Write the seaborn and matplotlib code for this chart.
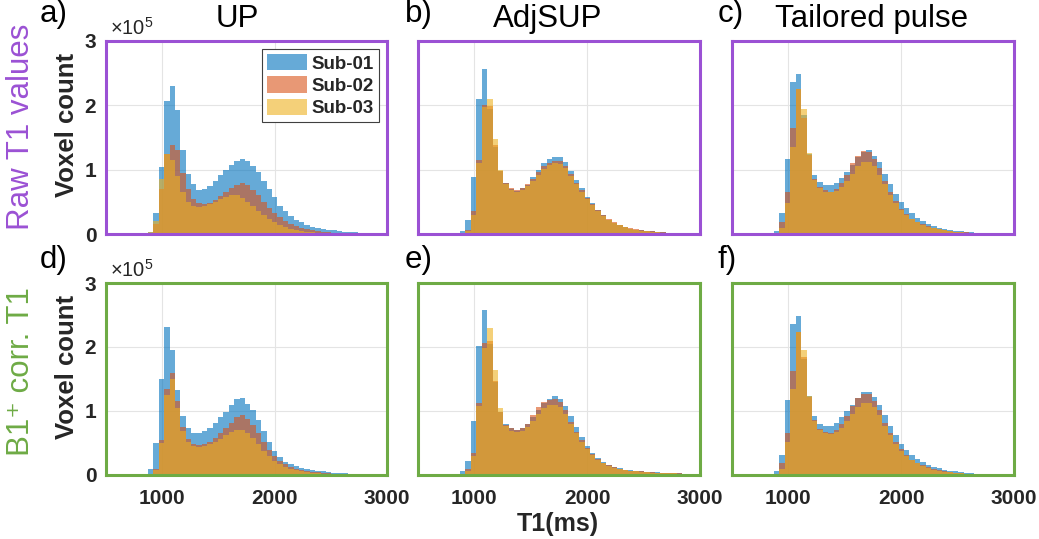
import numpy as np
import pandas as pd
import matplotlib
matplotlib.use("Agg")
import matplotlib.pyplot as plt
from matplotlib.patches import Patch
import seaborn as sns

sns.set_theme(style="white")
plt.rcParams['font.family'] = ['Liberation Sans', 'DejaVu Sans']
plt.rcParams['mathtext.fontset'] = 'custom'
plt.rcParams['mathtext.rm'] = 'Liberation Sans'
plt.rcParams['mathtext.it'] = 'Liberation Sans:italic'
plt.rcParams['mathtext.bf'] = 'Liberation Sans:bold'

# ---------------- data ----------------
SUBJECTS = ["Sub-01", "Sub-02", "Sub-03"]
METHODS = ["UP", "AdjSUP", "Tailored pulse"]
ROW_LABELS = ["Raw T1 values", "B1\u207a corr. T1"]
PANEL_LETTERS = ["a)", "b)", "c)", "d)", "e)", "f)"]
X_TICKS = [1000, 2000, 3000]
Y_TICKS = [0, 100000, 200000, 300000]
Y_TICK_LABELS = ["0", "1", "2", "3"]
X_LABEL = "T1(ms)"
Y_LABEL = "Voxel count"
Y_EXPONENT = r"$\mathregular{\times10^{5}}$"

# histogram bins (ms)
BIN_START = 825
BIN_WIDTH = 48
N_BINS = 46
COUNT_UNIT = 1e4  # values below are voxel counts in units of 10^4

# Row 1: raw T1 values
raw_up_sub01 = [0.0, 0.3, 3.2, 10.4, 20.6, 23.0, 19.2, 13.0, 9.4, 7.8,
                6.8, 7.0, 7.5, 8.3, 9.1, 9.9, 10.8, 11.4, 11.7, 11.4,
                10.5, 9.6, 8.3, 7.0, 5.7, 4.4, 3.5, 2.75, 2.2, 1.8,
                1.45, 1.15, 0.95, 0.8, 0.65, 0.55, 0.45, 0.38, 0.3, 0.25,
                0.2, 0.15, 0.12, 0.08, 0.05, 0.03]
raw_up_sub02 = [0.0, 0.2, 1.5, 7.0, 12.5, 13.8, 13.0, 9.5, 7.0, 5.5,
                4.8, 4.6, 4.8, 5.3, 5.9, 6.5, 7.1, 7.6, 7.9, 7.6,
                6.9, 6.0, 5.0, 4.1, 3.3, 2.6, 2.0, 1.55, 1.2, 0.9,
                0.7, 0.55, 0.42, 0.32, 0.25, 0.2, 0.15, 0.1, 0.08, 0.05,
                0.03, 0.02, 0.01, 0.0, 0.0, 0.0]
raw_up_sub03 = [0.0, 0.3, 2.0, 8.5, 12.4, 11.5, 9.0, 6.5, 5.0, 4.4,
                4.2, 4.3, 4.6, 5.0, 5.4, 5.8, 6.0, 6.0, 5.6, 5.0,
                4.3, 3.6, 2.9, 2.3, 1.8, 1.4, 1.05, 0.8, 0.6, 0.45,
                0.35, 0.27, 0.2, 0.15, 0.1, 0.08, 0.05, 0.03, 0.02, 0.01,
                0.0, 0.0, 0.0, 0.0, 0.0, 0.0]

raw_adjsup_sub01 = [0.0, 0.4, 2.1, 8.8, 21.0, 25.6, 19.5, 13.5, 9.8, 7.9,
                    7.0, 6.75, 7.1, 7.6, 8.8, 10.0, 11.0, 11.7, 12.0, 11.9,
                    11.2, 9.8, 8.4, 7.1, 5.8, 4.8, 3.8, 2.9, 2.2, 1.7,
                    1.34, 1.03, 0.82, 0.67, 0.57, 0.48, 0.4, 0.33, 0.27, 0.22,
                    0.18, 0.15, 0.12, 0.1, 0.08, 0.06]
raw_adjsup_sub02 = [0.0, 0.1, 0.6, 3.5, 11.5, 20.0, 19.9, 13.8, 9.8, 7.9,
                    7.2, 6.9, 7.2, 7.7, 8.5, 9.6, 10.5, 11.1, 11.4, 11.3,
                    10.6, 9.3, 8.0, 6.8, 5.6, 4.6, 3.7, 2.9, 2.3, 1.8,
                    1.4, 1.1, 0.88, 0.7, 0.58, 0.48, 0.4, 0.33, 0.27, 0.22,
                    0.18, 0.15, 0.12, 0.1, 0.08, 0.06]
raw_adjsup_sub03 = [0.0, 0.1, 0.4, 3.0, 11.0, 19.8, 21.0, 14.8, 10.0, 7.7,
                    6.9, 6.6, 6.9, 7.4, 8.2, 9.2, 10.1, 10.7, 11.0, 10.9,
                    10.2, 9.0, 7.8, 6.6, 5.5, 4.5, 3.6, 2.8, 2.2, 1.7,
                    1.35, 1.05, 0.85, 0.66, 0.53, 0.43, 0.35, 0.28, 0.23, 0.19,
                    0.15, 0.12, 0.1, 0.08, 0.06, 0.05]

raw_tailored_sub01 = [0.0, 0.5, 3.2, 11.6, 23.6, 24.8, 18.5, 12.4, 9.2, 8.1,
                      7.6, 7.6, 7.9, 8.75, 9.6, 10.8, 12.0, 12.8, 13.0, 12.2,
                      11.2, 9.4, 7.7, 6.25, 5.0, 4.0, 3.2, 2.5, 2.0, 1.6,
                      1.25, 1.0, 0.8, 0.62, 0.5, 0.4, 0.32, 0.25, 0.2, 0.15,
                      0.12, 0.09, 0.07, 0.05, 0.03, 0.02]
raw_tailored_sub02 = [0.0, 0.2, 1.8, 6.5, 16.4, 22.5, 18.1, 12.3, 8.6, 7.3,
                      6.8, 6.5, 7.0, 7.9, 9.1, 11.0, 12.1, 12.9, 12.8, 11.7,
                      10.2, 8.3, 6.5, 5.2, 3.9, 3.1, 2.4, 1.9, 1.5, 1.2,
                      0.95, 0.75, 0.6, 0.48, 0.38, 0.3, 0.24, 0.19, 0.15, 0.12,
                      0.09, 0.07, 0.05, 0.04, 0.03, 0.02]
raw_tailored_sub03 = [0.0, 0.1, 1.0, 4.8, 13.6, 22.5, 19.4, 12.6, 8.4, 7.1,
                      6.6, 6.5, 6.7, 7.3, 8.3, 9.4, 10.5, 11.2, 11.2, 10.5,
                      9.2, 7.7, 6.1, 4.8, 3.7, 2.9, 2.3, 1.8, 1.4, 1.1,
                      0.87, 0.7, 0.55, 0.44, 0.35, 0.28, 0.22, 0.17, 0.13, 0.1,
                      0.08, 0.06, 0.04, 0.03, 0.02, 0.01]

# Row 2: B1+ corrected T1
corr_up_sub01 = [0.1, 0.9, 5.0, 15.0, 23.2, 19.5, 13.3, 9.2, 7.4, 6.6,
                 6.5, 6.8, 7.4, 8.1, 9.0, 9.9, 11.0, 11.9, 12.1, 11.1,
                 10.1, 8.6, 6.8, 5.1, 3.7, 2.8, 2.1, 1.7, 1.37, 1.15,
                 0.93, 0.78, 0.65, 0.55, 0.45, 0.37, 0.3, 0.24, 0.19, 0.15,
                 0.11, 0.08, 0.05, 0.03, 0.01, 0.0]
corr_up_sub02 = [0.0, 0.1, 1.0, 5.5, 13.5, 16.0, 11.5, 7.5, 5.6, 4.9,
                 4.7, 4.8, 5.2, 5.8, 6.5, 7.3, 8.2, 9.0, 9.3, 8.8,
                 7.8, 6.5, 5.1, 3.9, 2.9, 2.2, 1.7, 1.3, 1.0, 0.8,
                 0.62, 0.5, 0.4, 0.32, 0.25, 0.2, 0.15, 0.12, 0.09, 0.07,
                 0.05, 0.03, 0.02, 0.01, 0.0, 0.0]
corr_up_sub03 = [0.0, 0.05, 0.8, 5.0, 12.5, 15.0, 10.5, 6.8, 5.2, 4.6,
                 4.4, 4.5, 4.8, 5.2, 5.7, 6.2, 6.7, 7.0, 7.0, 6.6,
                 5.8, 4.8, 3.8, 2.9, 2.2, 1.7, 1.3, 1.0, 0.78, 0.6,
                 0.47, 0.37, 0.29, 0.22, 0.17, 0.13, 0.1, 0.07, 0.05, 0.03,
                 0.02, 0.01, 0.0, 0.0, 0.0, 0.0]

corr_adjsup_sub01 = [0.0, 0.55, 2.2, 8.4, 20.2, 25.8, 20.5, 14.5, 9.8, 7.9,
                     7.3, 7.0, 7.3, 7.9, 9.0, 10.1, 11.3, 11.9, 12.3, 11.8,
                     10.8, 9.2, 7.5, 6.0, 4.5, 3.5, 2.6, 2.0, 1.6, 1.24,
                     1.03, 0.82, 0.72, 0.62, 0.57, 0.5, 0.45, 0.4, 0.36, 0.32,
                     0.28, 0.25, 0.22, 0.2, 0.18, 0.15]
corr_adjsup_sub02 = [0.0, 0.2, 1.0, 3.5, 11.2, 20.6, 20.9, 14.7, 9.8, 7.8,
                     7.3, 7.1, 7.4, 8.0, 9.4, 10.6, 11.4, 11.7, 11.8, 11.4,
                     10.1, 8.3, 6.75, 5.4, 4.2, 3.3, 2.5, 1.95, 1.55, 1.2,
                     1.0, 0.8, 0.7, 0.6, 0.55, 0.48, 0.43, 0.38, 0.34, 0.3,
                     0.27, 0.24, 0.21, 0.19, 0.17, 0.14]
corr_adjsup_sub03 = [0.0, 0.1, 0.6, 3.0, 10.8, 19.8, 22.9, 16.4, 10.4, 7.6,
                     6.9, 6.7, 6.9, 7.5, 8.4, 9.5, 10.4, 10.9, 11.0, 10.6,
                     9.6, 8.0, 6.5, 5.2, 4.0, 3.1, 2.4, 1.85, 1.45, 1.15,
                     0.95, 0.78, 0.66, 0.57, 0.5, 0.44, 0.39, 0.35, 0.31, 0.28,
                     0.25, 0.22, 0.2, 0.18, 0.16, 0.13]

corr_tailored_sub01 = [0.0, 0.6, 3.2, 11.7, 23.6, 24.9, 18.2, 12.3, 9.2, 8.0,
                       7.6, 7.6, 8.1, 9.0, 9.95, 11.0, 12.1, 12.9, 12.9, 12.2,
                       11.0, 9.3, 7.7, 6.2, 4.9, 3.9, 3.1, 2.5, 2.0, 1.6,
                       1.3, 1.05, 0.85, 0.68, 0.55, 0.44, 0.35, 0.28, 0.22, 0.17,
                       0.13, 0.1, 0.07, 0.05, 0.03, 0.02]
corr_tailored_sub02 = [0.0, 0.2, 1.8, 6.5, 16.2, 22.4, 18.4, 12.2, 8.6, 7.2,
                       6.7, 6.6, 7.0, 7.9, 9.2, 10.8, 12.0, 12.7, 12.7, 11.6,
                       10.1, 8.2, 6.5, 5.2, 4.0, 3.1, 2.4, 1.9, 1.5, 1.2,
                       0.95, 0.75, 0.6, 0.47, 0.37, 0.29, 0.23, 0.18, 0.14, 0.11,
                       0.08, 0.06, 0.04, 0.03, 0.02, 0.01]
corr_tailored_sub03 = [0.0, 0.1, 1.0, 5.2, 13.5, 22.4, 19.6, 12.4, 8.4, 7.0,
                       6.5, 6.4, 6.7, 7.4, 8.4, 9.6, 10.7, 11.25, 11.25, 10.6,
                       9.3, 7.7, 6.2, 4.9, 3.8, 2.9, 2.3, 1.8, 1.4, 1.1,
                       0.85, 0.67, 0.53, 0.42, 0.33, 0.26, 0.2, 0.16, 0.12, 0.09,
                       0.07, 0.05, 0.03, 0.02, 0.01, 0.0]

PANELS = [
    [(raw_up_sub01, raw_up_sub02, raw_up_sub03),
     (raw_adjsup_sub01, raw_adjsup_sub02, raw_adjsup_sub03),
     (raw_tailored_sub01, raw_tailored_sub02, raw_tailored_sub03)],
    [(corr_up_sub01, corr_up_sub02, corr_up_sub03),
     (corr_adjsup_sub01, corr_adjsup_sub02, corr_adjsup_sub03),
     (corr_tailored_sub01, corr_tailored_sub02, corr_tailored_sub03)],
]

# ---------------- style ----------------
SUB_COLORS = ["#0072BD", "#D95319", "#EDB120"]
ROW_COLORS = ["#9B51D4", "#6EAB45"]
TEXT_DARK = "#262626"
FIG_W, FIG_H = 1039, 539
COL_X = [(106, 387), (418, 700), (732, 1014)]
ROW_Y = [(41, 234), (283, 475)]

edges = BIN_START + BIN_WIDTH * np.arange(N_BINS + 1)
centers = edges[:-1] + BIN_WIDTH / 2.0

fig = plt.figure(figsize=(FIG_W / 100, FIG_H / 100), dpi=100)


def fx(x):
    return x / FIG_W


def fy(y):
    return 1 - y / FIG_H


for r in range(2):
    for c in range(3):
        l, rr = COL_X[c]
        t, b = ROW_Y[r]
        ax = fig.add_axes([fx(l), fy(b), (rr - l) / FIG_W, (b - t) / FIG_H])
        ax.set_axisbelow(True)
        for k, vals in enumerate(PANELS[r][c]):
            df = pd.DataFrame({"t1": centers,
                               "count": np.asarray(vals, dtype=float) * COUNT_UNIT})
            sns.histplot(data=df, x="t1", weights="count",
                         bins=list(edges), element="step", fill=True,
                         color=SUB_COLORS[k], alpha=0.6, linewidth=0,
                         ax=ax)
        ax.set_xlim(500, 3000)
        ax.set_ylim(0, 300000)
        ax.set_xticks(X_TICKS)
        ax.set_yticks(Y_TICKS)
        ax.grid(True, color="#E4E4E4", linewidth=0.8)
        ax.set_xlabel("")
        ax.set_ylabel("")
        if c == 0:
            ax.set_yticklabels(Y_TICK_LABELS)
        else:
            ax.set_yticklabels([])
        if r == 1:
            ax.set_xticklabels([str(v) for v in X_TICKS])
        else:
            ax.set_xticklabels([])
        ax.tick_params(axis="both", direction="in", length=3, width=0.6,
                       color="#666666", labelsize=15, labelcolor=TEXT_DARK)
        ax.tick_params(axis="y", pad=7)
        ax.tick_params(axis="x", pad=10)
        for lab in ax.get_xticklabels() + ax.get_yticklabels():
            lab.set_fontweight("bold")
        for sp in ax.spines.values():
            sp.set_color(ROW_COLORS[r])
            sp.set_linewidth(2.2)
            sp.set_visible(True)

        if r == 0 and c == 0:
            handles = [Patch(facecolor=SUB_COLORS[k], alpha=0.6, edgecolor="none")
                       for k in range(3)]
            leg = ax.legend(handles, SUBJECTS, loc="upper right",
                            prop={"weight": "bold", "size": 13.5},
                            frameon=True, fancybox=False, framealpha=1,
                            edgecolor="#404040", borderaxespad=0.45,
                            handlelength=2.15, handleheight=0.95,
                            labelspacing=0.2, borderpad=0.25,
                            handletextpad=0.25)
            leg.get_frame().set_linewidth(0.8)

# titles
TITLE_X = [237, 548, 872]
for c, name in enumerate(METHODS):
    fig.text(fx(TITLE_X[c]), fy(27), name, ha="center", va="baseline",
             fontsize=22.5, color="black")

# panel letters
LETTER_X = [40, 405, 718]
LETTER_Y = [22, 268]
for i, letter in enumerate(PANEL_LETTERS):
    r, c = divmod(i, 3)
    fig.text(fx(LETTER_X[c]), fy(LETTER_Y[r]), letter, ha="left",
             va="baseline", fontsize=22.5, color="black")

# row labels
ROW_LABEL_Y = [127, 372]
VOXEL_Y = [125, 367]
for r in range(2):
    fig.text(fx(21), fy(ROW_LABEL_Y[r]), ROW_LABELS[r], rotation=90,
             ha="center", va="center", fontsize=22.5, color=ROW_COLORS[r],
             family=["Liberation Sans", "DejaVu Sans"])
    fig.text(fx(67), fy(VOXEL_Y[r]), Y_LABEL, rotation=90, ha="center",
             va="center", fontsize=18.5, fontweight="bold", color=TEXT_DARK)
    base = ROW_Y[r][0] - 6
    fig.text(fx(110), fy(base), Y_EXPONENT, ha="left", va="baseline",
             fontsize=14.5, color=TEXT_DARK)

fig.text(fx(558), fy(524), X_LABEL, ha="center", va="center", fontsize=18,
         fontweight="bold", color=TEXT_DARK)

fig.savefig("out.png", dpi=100)
